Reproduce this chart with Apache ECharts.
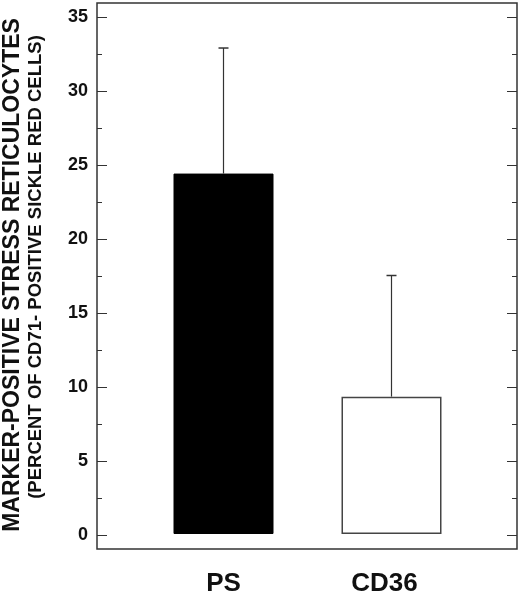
<!DOCTYPE html>
<html>
<head>
<meta charset="utf-8">
<script src="https://cdn.jsdelivr.net/npm/echarts@6/dist/echarts.min.js"></script>
<style>html,body{margin:0;padding:0;background:#fff}#c{width:520px;height:597px}</style>
</head>
<body>
<div id="c"></div>
<script>
const categories = ['PS', 'CD36'];
const means = [24.4, 9.3];
const errorTops = [32.9, 17.5];
const yTicks = { min: 0, max: 35, interval: 5 };
const titleMain = 'MARKER-POSITIVE STRESS RETICULOCYTES';
const titleSub = '(PERCENT OF CD71- POSITIVE SICKLE RED CELLS)';

const FONT = "'Liberation Sans', Arial, Helvetica, sans-serif";
const chart = echarts.init(document.getElementById('c'));

const yAxisCommon = {
  type: 'value', min: yTicks.min, max: yTicks.max, interval: yTicks.interval,
  axisLine: { show: false },
  axisTick: { show: true, inside: true, length: 10, lineStyle: { color: '#333', width: 1 } },
  minorTick: { show: true, splitNumber: 2, length: 5, lineStyle: { color: '#333', width: 1 } },
  splitLine: { show: false }
};

chart.setOption({
  animation: false,
  backgroundColor: '#fff',
  grid: [
    { left: 97, right: 3, top: 17, bottom: 62 },
    { left: 97, right: 3, top: 3, bottom: 48, show: true, borderColor: '#333', borderWidth: 1.5, backgroundColor: 'transparent' },
    { left: 139.5, right: 44.5, top: 17, bottom: 62 }
  ],
  xAxis: [
    { gridIndex: 0, type: 'value', show: false },
    { gridIndex: 1, type: 'value', show: false },
    { gridIndex: 2, type: 'category',
      data: categories.map((c, i) => i === 1 ? { value: c, textStyle: { padding: [0, 14, 0, 0] } } : c),
      axisLine: { show: false }, axisTick: { show: false },
      axisLabel: { margin: 37, fontFamily: FONT, fontWeight: 'bold', fontSize: 26, color: '#111' } }
  ],
  yAxis: [
    Object.assign({}, yAxisCommon, { gridIndex: 0, position: 'left',
      axisLabel: { margin: 9, fontFamily: FONT, fontWeight: 'bold', fontSize: 18, color: '#111' } }),
    Object.assign({}, yAxisCommon, { gridIndex: 0, position: 'right', axisLabel: { show: false } }),
    { gridIndex: 1, type: 'value', show: false },
    { gridIndex: 2, type: 'value', min: yTicks.min, max: yTicks.max, show: false }
  ],
  series: [
    { type: 'bar', xAxisIndex: 2, yAxisIndex: 3, barWidth: 100,
      data: means.map((v, i) => ({
        value: v,
        itemStyle: i === 0 ? { color: '#000', borderColor: '#000', borderWidth: 1 }
                           : { color: '#fff', borderColor: '#444', borderWidth: 1.5 }
      })), z: 2 },
    { type: 'custom', xAxisIndex: 2, yAxisIndex: 3, z: 3,
      data: categories.map((c, i) => [i, means[i], errorTops[i]]),
      renderItem: function (params, api) {
        const p0 = api.coord([api.value(0), api.value(1)]);
        const p1 = api.coord([api.value(0), api.value(2)]);
        const half = 5;
        return { type: 'group', children: [
          { type: 'line', shape: { x1: p0[0], y1: p0[1], x2: p1[0], y2: p1[1] }, style: { stroke: '#333', lineWidth: 1.2 } },
          { type: 'line', shape: { x1: p1[0] - half, y1: p1[1], x2: p1[0] + half, y2: p1[1] }, style: { stroke: '#333', lineWidth: 1.5 } }
        ] };
      } }
  ],
  graphic: [
    { type: 'text', x: 13, y: 275, rotation: Math.PI / 2,
      style: { text: titleMain, fontFamily: FONT, fontWeight: 'bold', fontSize: 23, fill: '#111', textAlign: 'center', textVerticalAlign: 'middle' } },
    { type: 'text', x: 36, y: 267, rotation: Math.PI / 2,
      style: { text: titleSub, fontFamily: FONT, fontWeight: 'bold', fontSize: 18.5, fill: '#111', textAlign: 'center', textVerticalAlign: 'middle' } }
  ]
});
</script>
</body>
</html>
